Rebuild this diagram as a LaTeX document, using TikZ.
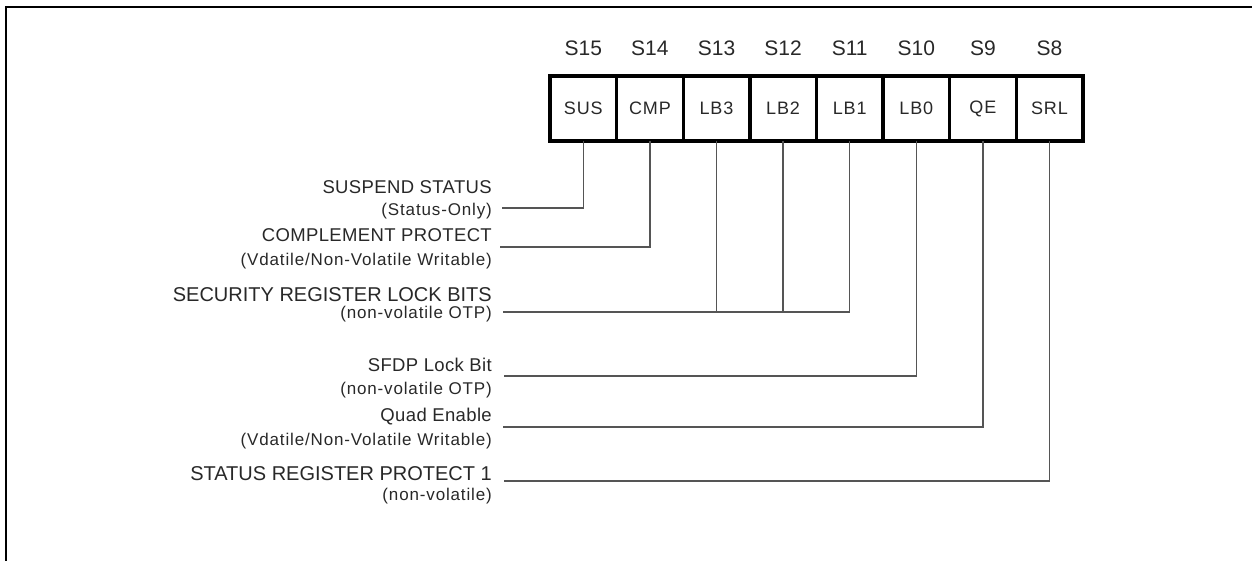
\documentclass[tikz,border=0pt]{standalone}
\usepackage{fontspec}
\setmainfont{Liberation Sans}
\newfontfamily\spacedfont{Liberation Sans}[LetterSpace=5]
\newfontfamily\titlefont{Liberation Sans}[LetterSpace=2]
\usetikzlibrary{positioning}

\definecolor{wiregray}{RGB}{85,85,85}
\definecolor{inkgray}{RGB}{40,40,40}

\tikzset{
  bitcell/.style={draw, line width=3.4pt, outer sep=0pt, inner sep=0pt,
    minimum width=66.6pt, minimum height=65pt, text=inkgray,
    font=\spacedfont\fontsize{18}{20}\selectfont},
  bitnum/.style={inner sep=0pt, text=inkgray, font=\fontsize{21}{24}\selectfont},
  fieldname/.style={anchor=east, inner sep=0pt, text=inkgray, font=\titlefont\fontsize{18.5}{22}\selectfont},
  fieldnote/.style={anchor=east, inner sep=0pt, text=inkgray, font=\spacedfont\fontsize{17}{20}\selectfont},
  wire/.style={draw=wiregray, line width=1.4pt}
}

\begin{document}
\begin{tikzpicture}[x=1pt, y=-1pt]
  \useasboundingbox (0,0) rectangle (1252,561);

  % frame
  \draw[line width=2pt] (6,561) -- (6,7) -- (1252,7);

  % register cells S15..S8
  \node[bitcell] (sus) at (583.3,108.5) {SUS};
  \node[bitcell, right=0pt of sus] (cmp) {CMP};
  \node[bitcell, right=0pt of cmp] (lb3) {LB3};
  \node[bitcell, right=0pt of lb3] (lb2) {LB2};
  \node[bitcell, right=0pt of lb2] (lb1) {LB1};
  \node[bitcell, right=0pt of lb1] (lb0) {LB0};
  \node[bitcell, right=0pt of lb0] (qe) {QE};
  \node[bitcell, right=0pt of qe] (srl) {SRL};

  % bit numbers
  \node[bitnum] (s15) at ([yshift=28pt]sus.north) {S15};
  \node[bitnum] (s14) at ([yshift=28pt]cmp.north) {S14};
  \node[bitnum] (s13) at ([yshift=28pt]lb3.north) {S13};
  \node[bitnum] (s12) at ([yshift=28pt]lb2.north) {S12};
  \node[bitnum] (s11) at ([yshift=28pt]lb1.north) {S11};
  \node[bitnum] (s10) at ([yshift=28pt]lb0.north) {S10};
  \node[bitnum] (s9) at ([yshift=28pt]qe.north) {S9};
  \node[bitnum] (s8) at ([yshift=28pt]srl.north) {S8};

  % field descriptions
  \node[fieldname] (susname) at (492,187) {SUSPEND STATUS};
  \node[fieldnote] (susnote) at (492,211.5) {(Status-Only)};
  \node[fieldname] (cmpname) at (492,235.5) {COMPLEMENT PROTECT};
  \node[fieldnote] (cmpnote) at (492,261) {(Vdatile/Non-Volatile Writable)};
  \node[fieldname, font=\fontsize{20}{22}\selectfont] (lbname) at (492,295) {SECURITY REGISTER LOCK BITS};
  \node[fieldnote] (lbnote) at (492,314) {(non-volatile OTP)};
  \node[fieldname] (sfdpname) at (492,365) {SFDP Lock Bit};
  \node[fieldnote] (sfdpnote) at (492,390) {(non-volatile OTP)};
  \node[fieldname] (qename) at (492,417) {Quad Enable};
  \node[fieldnote] (qenote) at (492,441.5) {(Vdatile/Non-Volatile Writable)};
  \node[fieldname, font=\fontsize{20}{22}\selectfont] (srlname) at (492,474) {STATUS REGISTER PROTECT 1};
  \node[fieldnote] (srlnote) at (492,496) {(non-volatile)};

  % wire ends
  \coordinate (susend) at (502,208);
  \coordinate (cmpend) at (500,247);
  \coordinate (lbend) at (503,312);
  \coordinate (sfdpend) at (504,376);
  \coordinate (qeend) at (503,427);
  \coordinate (srlend) at (504,481);

  % wires
  \draw[wire] (sus.south) |- (susend);
  \draw[wire] (cmp.south) |- (cmpend);
  \draw[wire] (lb1.south) |- (lbend);
  \draw[wire] (lb2.south) -- (lb2.south |- lbend);
  \draw[wire] (lb3.south) -- (lb3.south |- lbend);
  \draw[wire] (lb0.south) |- (sfdpend);
  \draw[wire] (qe.south) |- (qeend);
  \draw[wire] (srl.south) |- (srlend);
\end{tikzpicture}
\end{document}
